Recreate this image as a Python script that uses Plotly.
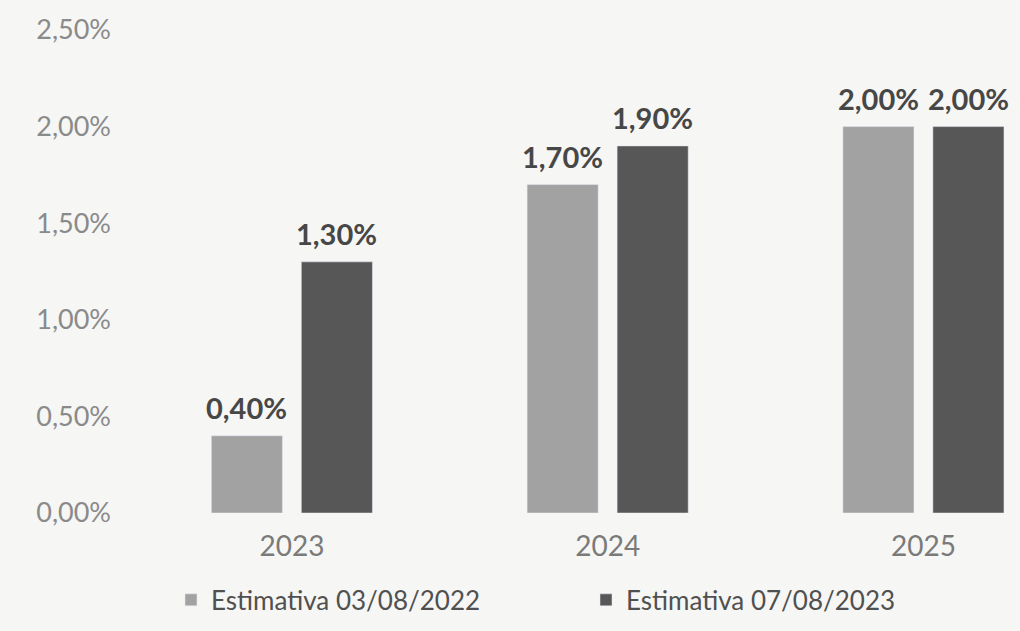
import plotly.graph_objects as go

categories = ["2023", "2024", "2025"]
est_2022 = [0.40, 1.70, 2.00]
est_2023 = [1.30, 1.90, 2.00]
series_names = ["Estimativa 03/08/2022", "Estimativa 07/08/2023"]
tick_vals = [0, 0.5, 1.0, 1.5, 2.0, 2.5]
tick_text = [f"{v:.2f}".replace(".", ",") + "%" for v in tick_vals]

FONT = "Lato, 'Open Sans', sans-serif"
BAR_COLORS = ["#a2a2a2", "#575757"]

fig = go.Figure()
for name, vals, color in zip(series_names, [est_2022, est_2023], BAR_COLORS):
    fig.add_trace(go.Bar(x=categories, y=vals, name=name, marker=dict(color=color)))

# data labels above each bar (grouped: left bar / right bar of each category)
label_font = dict(family=FONT, size=29, color="#474747", weight="bold")
for vals, shift in zip([est_2022, est_2023], [-45, 45]):
    for idx, v in enumerate(vals):
        fig.add_annotation(
            x=idx, y=v, xref="x", yref="y",
            text=f"{v:.2f}".replace(".", ",") + "%",
            showarrow=False, xshift=shift, yanchor="bottom", yshift=9,
            font=label_font,
        )

fig.update_layout(
    width=1020, height=631,
    paper_bgcolor="#f6f6f4", plot_bgcolor="#f6f6f4",
    separators=",.",
    barmode="group", bargap=0.43, bargroupgap=0.21,
    margin=dict(l=134, r=5, t=30, b=118),
    font=dict(family=FONT, color="#8a8a8a"),
    xaxis=dict(
        type="category",
        range=[-0.5, 2.29], showgrid=False, showline=False, zeroline=False,
        tickfont=dict(size=28, color="#7a7a7a"), ticks="", ticklabelstandoff=14,
    ),
    yaxis=dict(
        range=[0, 2.5], tickvals=tick_vals, ticktext=tick_text,
        showgrid=False, showline=False, zeroline=False,
        tickfont=dict(size=27, color="#8a8a8a"), ticks="", ticklabelstandoff=22,
    ),
    showlegend=True,
    legend=dict(
        orientation="h", x=0.042, xanchor="left", y=-0.18, yanchor="middle",
        entrywidth=370, entrywidthmode="pixels",
        font=dict(size=26, color="#505050"),
        bgcolor="rgba(0,0,0,0)", itemwidth=30,
    ),
)

fig.write_html("out.html", config={"displayModeBar": False},
               post_script="document.body.style.margin='0';")
